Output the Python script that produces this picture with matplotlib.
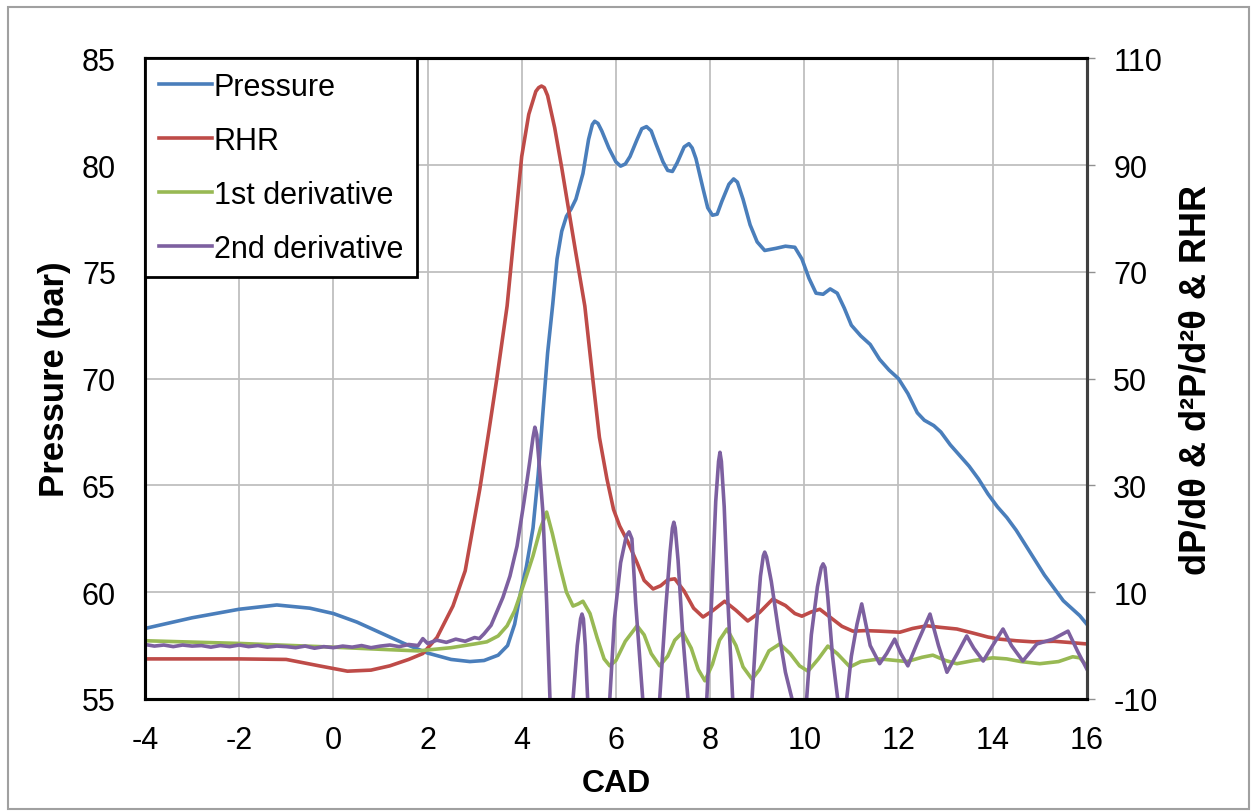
import matplotlib
matplotlib.use("Agg")
import matplotlib.pyplot as plt
from matplotlib.patches import Rectangle

plt.rcParams['font.family'] = ['Liberation Sans', 'DejaVu Sans']
plt.rcParams['axes.unicode_minus'] = False

# Pressure (bar), left axis
p_cad = [-4.0, -3.0, -2.0, -1.2, -0.5, 0.0, 0.5, 1.0, 1.5, 2.0, 2.5, 2.9, 3.2, 3.5,
         3.7, 3.85, 3.96, 4.1, 4.24, 4.35, 4.45, 4.55, 4.66, 4.75, 4.85, 4.95, 5.05,
         5.15, 5.3, 5.42, 5.5, 5.55, 5.62, 5.7, 5.85, 6.0, 6.1, 6.2, 6.3, 6.45, 6.55,
         6.65, 6.75, 6.85, 7.0, 7.1, 7.2, 7.3, 7.45, 7.55, 7.62, 7.7, 7.85, 7.95, 8.05,
         8.15, 8.25, 8.4, 8.5, 8.58, 8.7, 8.85, 9.0, 9.16, 9.4, 9.6, 9.8, 9.95, 10.1,
         10.25, 10.4, 10.55, 10.7, 10.85, 11.0, 11.2, 11.4, 11.6, 11.8, 12.0, 12.2, 12.4,
         12.55, 12.75, 12.9, 13.1, 13.3, 13.5, 13.7, 13.9, 14.1, 14.3, 14.5, 14.7, 14.9,
         15.1, 15.3, 15.5, 15.7, 15.85, 16.0]
pressure = [58.3, 58.8, 59.2, 59.4, 59.25, 59.0, 58.6, 58.1, 57.6, 57.15, 56.85, 56.75,
            56.8, 57.05, 57.5, 58.5, 59.8, 61.2, 63.0, 65.5, 68.4, 71.2, 73.5, 75.6, 76.9,
            77.6, 77.95, 78.4, 79.6, 81.2, 81.9, 82.05, 81.95, 81.6, 80.8, 80.15, 79.95,
            80.05, 80.4, 81.2, 81.7, 81.8, 81.6, 81.0, 80.15, 79.75, 79.7, 80.1, 80.85,
            81.0, 80.8, 80.3, 78.9, 78.0, 77.65, 77.7, 78.3, 79.1, 79.35, 79.2, 78.4, 77.2,
            76.4, 76.0, 76.1, 76.2, 76.15, 75.6, 74.7, 74.0, 73.95, 74.2, 74.0, 73.3, 72.5,
            72.0, 71.6, 70.9, 70.4, 70.0, 69.3, 68.4, 68.05, 67.8, 67.5, 66.9, 66.4, 65.9,
            65.3, 64.6, 64.0, 63.5, 62.9, 62.2, 61.5, 60.8, 60.2, 59.6, 59.2, 58.9, 58.5]

# RHR, right axis
r_cad = [-4, -2, -1, -0.3, 0.3, 0.8, 1.2, 1.6, 1.9, 2.2, 2.54, 2.8, 3.11, 3.3, 3.47,
         3.69, 3.85, 4.0, 4.15, 4.3, 4.36, 4.42, 4.48, 4.55, 4.7, 4.85, 4.96, 5.15, 5.34,
         5.51, 5.65, 5.81, 5.95, 6.08, 6.25, 6.45, 6.6, 6.79, 6.95, 7.1, 7.25, 7.45,
         7.65, 7.85, 8.05, 8.31, 8.55, 8.8, 9.05, 9.33, 9.6, 9.8, 9.95, 10.15, 10.33,
         10.55, 10.8, 11.03, 11.3, 11.6, 12.03, 12.3, 12.6, 12.9, 13.24, 13.6, 13.9,
         14.15, 14.5, 14.85, 15.3, 15.6, 16]
rhr = [-2.5, -2.5, -2.6, -3.8, -4.8, -4.6, -3.8, -2.6, -1.5, 1.5, 7.4, 14, 29.3, 40,
       49.9, 63.6, 78, 91.6, 99.5, 103.8, 104.5, 104.8, 104.5, 103, 97, 89.5, 83.6, 73.5,
       63.6, 49.9, 39, 31.2, 25.5, 22.4, 19.5, 15.5, 12.2, 10.6, 11.2, 12.3, 12.5, 10.2,
       7.0, 5.35, 6.5, 8.3, 6.6, 4.6, 6.2, 8.7, 7.5, 6.0, 5.5, 6.3, 6.8, 5.3, 3.6, 2.7,
       2.8, 2.7, 2.5, 3.2, 3.7, 3.4, 3.1, 2.3, 1.6, 1.2, 0.9, 0.7, 0.8, 0.6, 0.3]

# 1st derivative
d1_cad = [-4, -2, 0, 1, 1.8, 2.5, 3.0, 3.26, 3.5, 3.69, 3.85, 3.96, 4.1, 4.24, 4.4,
          4.53, 4.65, 4.81, 4.95, 5.09, 5.2, 5.3, 5.45, 5.6, 5.75, 5.87, 6.0, 6.2, 6.45,
          6.6, 6.75, 6.93, 7.1, 7.25, 7.42, 7.6, 7.75, 7.89, 8.05, 8.2, 8.36, 8.55, 8.7,
          8.89, 9.05, 9.25, 9.48, 9.7, 9.9, 10.08, 10.3, 10.5, 10.7, 10.97, 11.2, 11.6,
          12.18, 12.5, 12.73, 13.0, 13.24, 13.6, 14.0, 14.3, 14.6, 15.0, 15.4, 15.7,
          15.85, 16.0]
d1 = [0.9, 0.4, -0.3, -0.7, -1.0, -0.4, 0.3, 0.7, 1.8, 3.7, 6.5, 9.3, 13, 16.8, 22, 25,
      21, 14.9, 10, 7.4, 7.8, 8.3, 6.0, 1.5, -2.5, -3.8, -2.8, 0.8, 3.7, 2.0, -1.5, -3.8,
      -2.0, 1.0, 2.5, -0.5, -4.5, -6.6, -3.5, 1.0, 3.1, 0.0, -4.0, -6.3, -4.5, -1.0, 0.3,
      -1.5, -3.8, -4.8, -2.5, -0.1, -1.5, -4.0, -3.0, -2.5, -3.0, -2.2, -1.8, -2.8, -3.4,
      -2.8, -2.3, -2.5, -3.0, -3.4, -3.0, -2.1, -2.3, -3.8]

# 2nd derivative
d2_cad = [-4.0, -3.8, -3.6, -3.4, -3.2, -3.0, -2.8, -2.6, -2.4, -2.2, -2.0, -1.8, -1.6,
          -1.4, -1.2, -1.0, -0.8, -0.6, -0.4, -0.2, 0.0, 0.2, 0.4, 0.6, 0.8, 1.0, 1.2,
          1.4, 1.6, 1.8, 1.9, 2.0, 2.2, 2.4, 2.6, 2.8, 3.0, 3.1, 3.2, 3.35, 3.47, 3.6,
          3.75, 3.9, 4.05, 4.17, 4.24, 4.28, 4.32, 4.38, 4.45, 4.53, 4.6, 4.75, 4.95,
          5.09, 5.18, 5.25, 5.28, 5.31, 5.35, 5.4, 5.55, 5.75, 5.87, 5.97, 6.1, 6.22,
          6.28, 6.34, 6.42, 6.57, 6.75, 6.93, 7.05, 7.15, 7.2, 7.23, 7.26, 7.32, 7.42,
          7.53, 7.75, 7.93, 8.03, 8.12, 8.18, 8.21, 8.24, 8.3, 8.38, 8.48, 8.7, 8.89,
          8.98, 9.07, 9.13, 9.16, 9.2, 9.3, 9.45, 9.6, 9.74, 9.9, 10.05, 10.15, 10.28,
          10.36, 10.4, 10.44, 10.5, 10.6, 10.71, 10.8, 10.9, 11.0, 11.12, 11.22, 11.4,
          11.6, 11.75, 11.92, 12.05, 12.2, 12.4, 12.67, 12.85, 13.03, 13.25, 13.45, 13.6,
          13.8, 14.0, 14.22, 14.4, 14.64, 14.94, 15.28, 15.6, 15.8, 16.0]
d2 = [0.2, -0.1, 0.1, -0.2, 0.1, -0.1, 0.0, -0.3, 0.0, -0.2, 0.1, -0.2, 0.0, -0.3, -0.1,
      -0.2, -0.4, -0.1, -0.5, -0.2, -0.4, -0.1, -0.3, 0.0, -0.4, -0.1, 0.1, -0.2, 0.2,
      0.0, 1.3, 0.4, 1.0, 0.6, 1.2, 0.8, 1.5, 1.3, 2.2, 3.8, 6.3, 9.0, 13.0, 18.6, 27.0,
      34.4, 39.0, 40.9, 39.5, 33.0, 25.0, 8.0, -10, -35, -30, -10, 0.0, 5.0, 5.9, 5.0,
      0.0, -10, -30, -30, -10, 5.0, 15.5, 20.5, 21.3, 20.0, 8.0, -10, -30, -10, 6.0,
      17.5, 22.0, 23.1, 22.0, 16.0, 2.0, -10, -30, -10, 8.0, 27.0, 34.5, 36.2, 34.5,
      26.0, 8.0, -10, -30, -10, 3.0, 13.0, 16.8, 17.5, 16.6, 12.0, 3.0, -5.0, -10, -25,
      -10, 2.0, 11.0, 14.6, 15.3, 14.6, 9.0, -2.0, -10, -25, -10, -2.0, 4.0, 7.8, 0.0,
      -3.4, -1.5, 1.2, -1.5, -3.8, 0.5, 5.9, 0.0, -5.0, -1.5, 1.8, -0.5, -2.9, 0.0, 3.1,
      0.0, -2.9, 0.3, 1.2, 2.7, -1.0, -4.4]

x_ticks = [-4, -2, 0, 2, 4, 6, 8, 10, 12, 14, 16]
left_ticks = [55, 60, 65, 70, 75, 80, 85]
right_ticks = [-10, 10, 30, 50, 70, 90, 110]

blue = '#4A7EBB'
red = '#BE4B48'
green = '#98B954'
purple = '#7D60A0'
lw = 2.6

fig = plt.figure(figsize=(12.55, 8.12), dpi=100)
fig.patches.append(Rectangle((0.006, 0.003), 0.989, 0.987, transform=fig.transFigure,
                             fill=False, edgecolor='#A0A0A0', linewidth=1.5))
ax = fig.add_axes([0.1155, 0.138, 0.7505, 0.789])
ax2 = ax.twinx()

l1, = ax.plot(p_cad, pressure, color=blue, lw=lw, label='Pressure', solid_joinstyle='round')
l2, = ax2.plot(r_cad, rhr, color=red, lw=lw, label='RHR', solid_joinstyle='round')
l3, = ax2.plot(d1_cad, d1, color=green, lw=lw, label='1st derivative', solid_joinstyle='round')
l4, = ax2.plot(d2_cad, d2, color=purple, lw=lw, label='2nd derivative', solid_joinstyle='round')

ax.set_xlim(-4, 16)
ax.set_ylim(55, 85)
ax2.set_ylim(-10, 110)
ax.set_xticks(x_ticks)
ax.set_yticks(left_ticks)
ax2.set_yticks(right_ticks)
ax.grid(True, color='#BFBFBF', linewidth=1.3)
ax.set_axisbelow(True)

ax.tick_params(axis='y', labelsize=22, length=0, pad=21)
ax.tick_params(axis='x', labelsize=22, length=0, pad=19)
ax2.tick_params(axis='y', labelsize=22, length=6, width=1, color='#909090', pad=13)

ax.set_xlabel('CAD', fontsize=23, fontweight='bold', labelpad=9)
ax.set_ylabel('Pressure (bar)', fontsize=25, fontweight='bold', labelpad=8)
ax2.set_ylabel('dP/dθ & d²P/d²θ & RHR', fontsize=26, fontweight='bold', labelpad=12)

for a in (ax, ax2):
    for s in a.spines.values():
        s.set_linewidth(2.2)
        s.set_color('black')
ax2.spines['right'].set_color('#404040')

leg = ax2.legend(handles=[l1, l2, l3, l4], loc='upper left', fontsize=22,
                 frameon=True, fancybox=False, borderaxespad=0, handlelength=1.75,
                 handletextpad=0.05, labelspacing=0.78, borderpad=0.45)
leg.get_frame().set_edgecolor('black')
leg.get_frame().set_linewidth(2.0)
leg.get_frame().set_alpha(1)

fig.savefig('out.png', dpi=100)
